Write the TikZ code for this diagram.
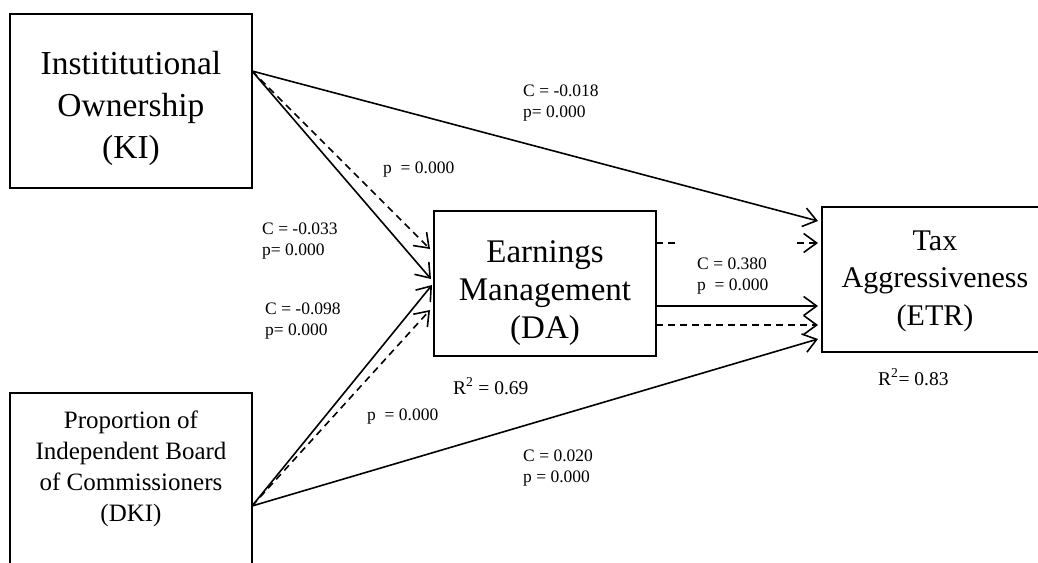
\documentclass[tikz,border=0pt]{standalone}
\usepackage{fontspec}
\setmainfont{Liberation Serif}
\usetikzlibrary{arrows.meta}
\begin{document}
\begin{tikzpicture}[x=1pt,y=-1pt,
  box/.style={draw, line width=1.8pt, inner sep=0pt},
  bigtxt/.style={align=center, anchor=base, inner sep=0pt},
  lbl/.style={align=left, anchor=base west, inner sep=0pt, font=\fontsize{17.5}{21}\selectfont},
  rsq/.style={anchor=base west, inner sep=0pt, font=\fontsize{19.5}{22}\selectfont},
  conn/.style={line width=1.6pt, -{Straight Barb[length=13pt,width=19pt,line width=1.6pt]}},
  dashconn/.style={conn, dash pattern=on 7pt off 5pt},
  dashseg/.style={line width=1.6pt, dash pattern=on 7pt off 5pt},
]
\useasboundingbox (0,0) rectangle (1038,562);
% boxes
\node[box, minimum width=242pt, minimum height=174pt] (KI) at (131,101) {};
\node[box, minimum width=222pt, minimum height=145pt] (DA) at (545,283.5) {};
\node[box, minimum width=240pt, minimum height=145pt] (ETR) at (942,279.5) {};
\node[box, minimum width=242pt, minimum height=187pt] (DKI) at (131,486.5) {};
% box texts (anchored at the baseline of the last line)
\node[bigtxt, font=\fontsize{33.5}{42}\selectfont] (KItxt) at (131,158) {Instititutional\\Ownership\\(KI)};
\node[bigtxt, font=\fontsize{33}{38}\selectfont] (DAtxt) at (545,338) {Earnings\\Management\\(DA)};
\node[bigtxt, font=\fontsize{30}{37.5}\selectfont] (ETRtxt) at (935,325) {Tax\\Aggressiveness\\(ETR)};
\node[bigtxt, font=\fontsize{25}{31}\selectfont] (DKItxt) at (131,521) {Proportion of\\Independent Board\\of Commissioners\\(DKI)};
% connector points
\coordinate (kio) at (252,71);
\coordinate (dkio) at (252,506);
\coordinate (kida1) at (430,249);
\coordinate (kida2) at (431,279);
\coordinate (dkida1) at (432,285);
\coordinate (dkida2) at (430,310);
\coordinate (etr1) at (818,221);
\coordinate (etr2) at (818,243);
\coordinate (etr3) at (818,306);
\coordinate (etr4) at (818,325);
\coordinate (etr5) at (818,339);
\coordinate (dao1) at (656,243);
\coordinate (dagap1) at (677,243);
\coordinate (dagap2) at (797,243);
\coordinate (dao3) at (656,306);
\coordinate (dao4) at (656,325);
% connectors
\draw[conn] (kio) -- (etr1);
\draw[dashconn] (kio) -- (kida1);
\draw[conn] (kio) -- (kida2);
\draw[conn] (dkio) -- (dkida1);
\draw[dashconn] (dkio) -- (dkida2);
\draw[conn] (dkio) -- (etr5);
\draw[dashseg] (dao1) -- (dagap1);
\draw[dashconn] (dagap2) -- (etr2);
\draw[conn] (dao3) -- (etr3);
\draw[dashconn] (dao4) -- (etr4);
% labels (anchored at the baseline of the last line)
\node[lbl] (l1) at (523,117) {C = -0.018\\p= 0.000};
\node[lbl] (l2) at (383,173) {p \ = 0.000};
\node[lbl] (l3) at (262,255) {C = -0.033\\p= 0.000};
\node[lbl] (l4) at (265,335) {C = -0.098\\p= 0.000};
\node[lbl] (l5) at (367,420) {p \ = 0.000};
\node[lbl] (l6) at (697,290) {C = 0.380\\p \ = 0.000};
\node[lbl] (l7) at (523,482) {C = 0.020\\p = 0.000};
\node[rsq] (r1) at (453,394) {R\textsuperscript{2} = 0.69};
\node[rsq] (r2) at (878,385) {R\textsuperscript{2}= 0.83};
\end{tikzpicture}
\end{document}
